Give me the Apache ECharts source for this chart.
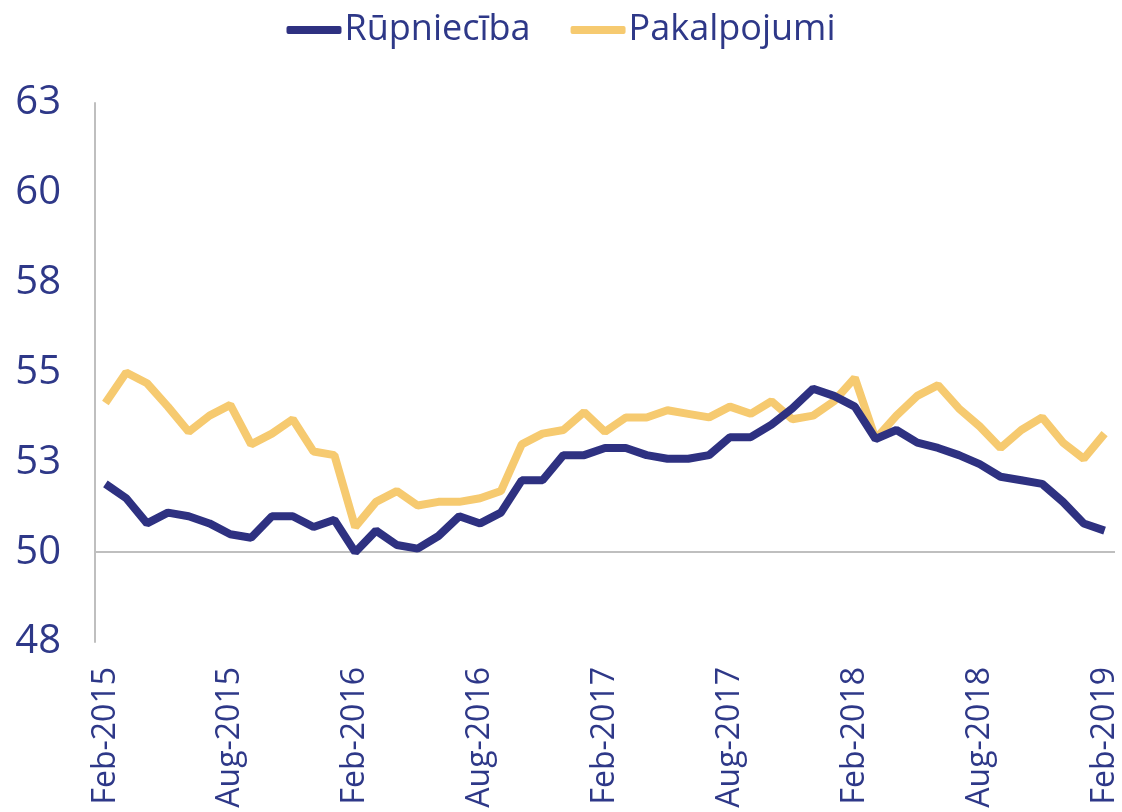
<!DOCTYPE html>
<html>
<head>
<meta charset="utf-8">
<script src="https://cdn.jsdelivr.net/npm/echarts@6/dist/echarts.min.js"></script>
<style>
  html, body { margin: 0; padding: 0; background: #fff; }
  #chart { width: 1122px; height: 812px; }
</style>
</head>
<body>
<div id="chart"></div>
<script>
const months = [
  "Feb-2015", "Mar-2015", "Apr-2015", "May-2015", "Jun-2015", "Jul-2015", "Aug-2015", "Sep-2015", "Oct-2015", "Nov-2015", "Dec-2015", "Jan-2016",
  "Feb-2016", "Mar-2016", "Apr-2016", "May-2016", "Jun-2016", "Jul-2016", "Aug-2016", "Sep-2016", "Oct-2016", "Nov-2016", "Dec-2016", "Jan-2017",
  "Feb-2017", "Mar-2017", "Apr-2017", "May-2017", "Jun-2017", "Jul-2017", "Aug-2017", "Sep-2017", "Oct-2017", "Nov-2017", "Dec-2017", "Jan-2018",
  "Feb-2018", "Mar-2018", "Apr-2018", "May-2018", "Jun-2018", "Jul-2018", "Aug-2018", "Sep-2018", "Oct-2018", "Nov-2018", "Dec-2018", "Jan-2019",
  "Feb-2019"
];

const rupnieciba = [
  51.9, 51.5, 50.8, 51.1, 51.0, 50.8, 50.5, 50.4, 51.0, 51.0, 50.7, 50.9,
  50.0, 50.6, 50.2, 50.1, 50.45, 51.0, 50.8, 51.1, 52.0, 52.0, 52.7, 52.7,
  52.9, 52.9, 52.7, 52.6, 52.6, 52.7, 53.2, 53.2, 53.55, 54.0, 54.55, 54.35,
  54.05, 53.15, 53.4, 53.05, 52.9, 52.7, 52.45, 52.1, 52.0, 51.9, 51.4, 50.8,
  50.6
];

const pakalpojumi = [
  54.15, 55.0, 54.7, 54.05, 53.35, 53.8, 54.1, 53.0, 53.3, 53.7, 52.8, 52.7,
  50.7, 51.4, 51.7, 51.3, 51.4, 51.4, 51.5, 51.7, 53.0, 53.3, 53.4, 53.9,
  53.35, 53.75, 53.75, 53.95, 53.85, 53.75, 54.05, 53.85, 54.2, 53.7, 53.8, 54.2,
  54.85, 53.15, 53.8, 54.35, 54.65, 54.0, 53.5, 52.9, 53.4, 53.75, 53.05, 52.6,
  53.3
];

const yTickLabels = ["48", "50", "53", "55", "58", "60", "63"];

const navy = "#2E3181";
const gold = "#F6CA70";
const textColor = "#2E3888";

const myChart = echarts.init(document.getElementById("chart"));

const option = {
  backgroundColor: "#fff",
  legend: {
    top: 7,
    left: "center",
    itemWidth: 55,
    itemHeight: 8,
    itemGap: 40,
    icon: "roundRect",
    textStyle: {
      color: textColor,
      fontSize: 36,
      fontFamily: "Open Sans",
      padding: [0, 0, 0, -2],
    },
    data: ["Rūpniecība", "Pakalpojumi"],
  },
  grid: {
    left: 95,
    right: 7,
    top: 103,
    bottom: 170,
  },
  xAxis: {
    type: "category",
    data: months,
    boundaryGap: true,
    axisLine: { show: false },
    axisTick: { show: false },
    axisLabel: {
      interval: 5,
      rotate: 90,
      margin: 25,
      color: textColor,
      fontSize: 32,
      fontFamily: "Open Sans",
    },
  },
  yAxis: {
    type: "value",
    min: 47.5,
    max: 62.5,
    interval: 2.5,
    axisLine: { show: true, lineStyle: { color: "#BFBFBF", width: 2 } },
    axisTick: { show: false },
    splitLine: { show: false },
    axisLabel: {
      margin: 34,
      color: textColor,
      fontSize: 40,
      fontFamily: "Open Sans",
      formatter: (v) => yTickLabels[Math.round((v - 47.5) / 2.5)],
    },
  },
  series: [
    {
      name: "Rūpniecība",
      type: "line",
      data: rupnieciba,
      symbol: "none",
      color: navy,
      lineStyle: { width: 8, color: navy },
      z: 3,
      markLine: {
        silent: true,
        symbol: "none",
        z: 1,
        label: { show: false },
        lineStyle: { color: "#BFBFBF", width: 2, type: "solid" },
        data: [{ yAxis: 50 }],
      },
    },
    {
      name: "Pakalpojumi",
      type: "line",
      data: pakalpojumi,
      symbol: "none",
      color: gold,
      lineStyle: { width: 8, color: gold },
      z: 2,
    },
  ],
};

myChart.setOption(option);
</script>
</body>
</html>
